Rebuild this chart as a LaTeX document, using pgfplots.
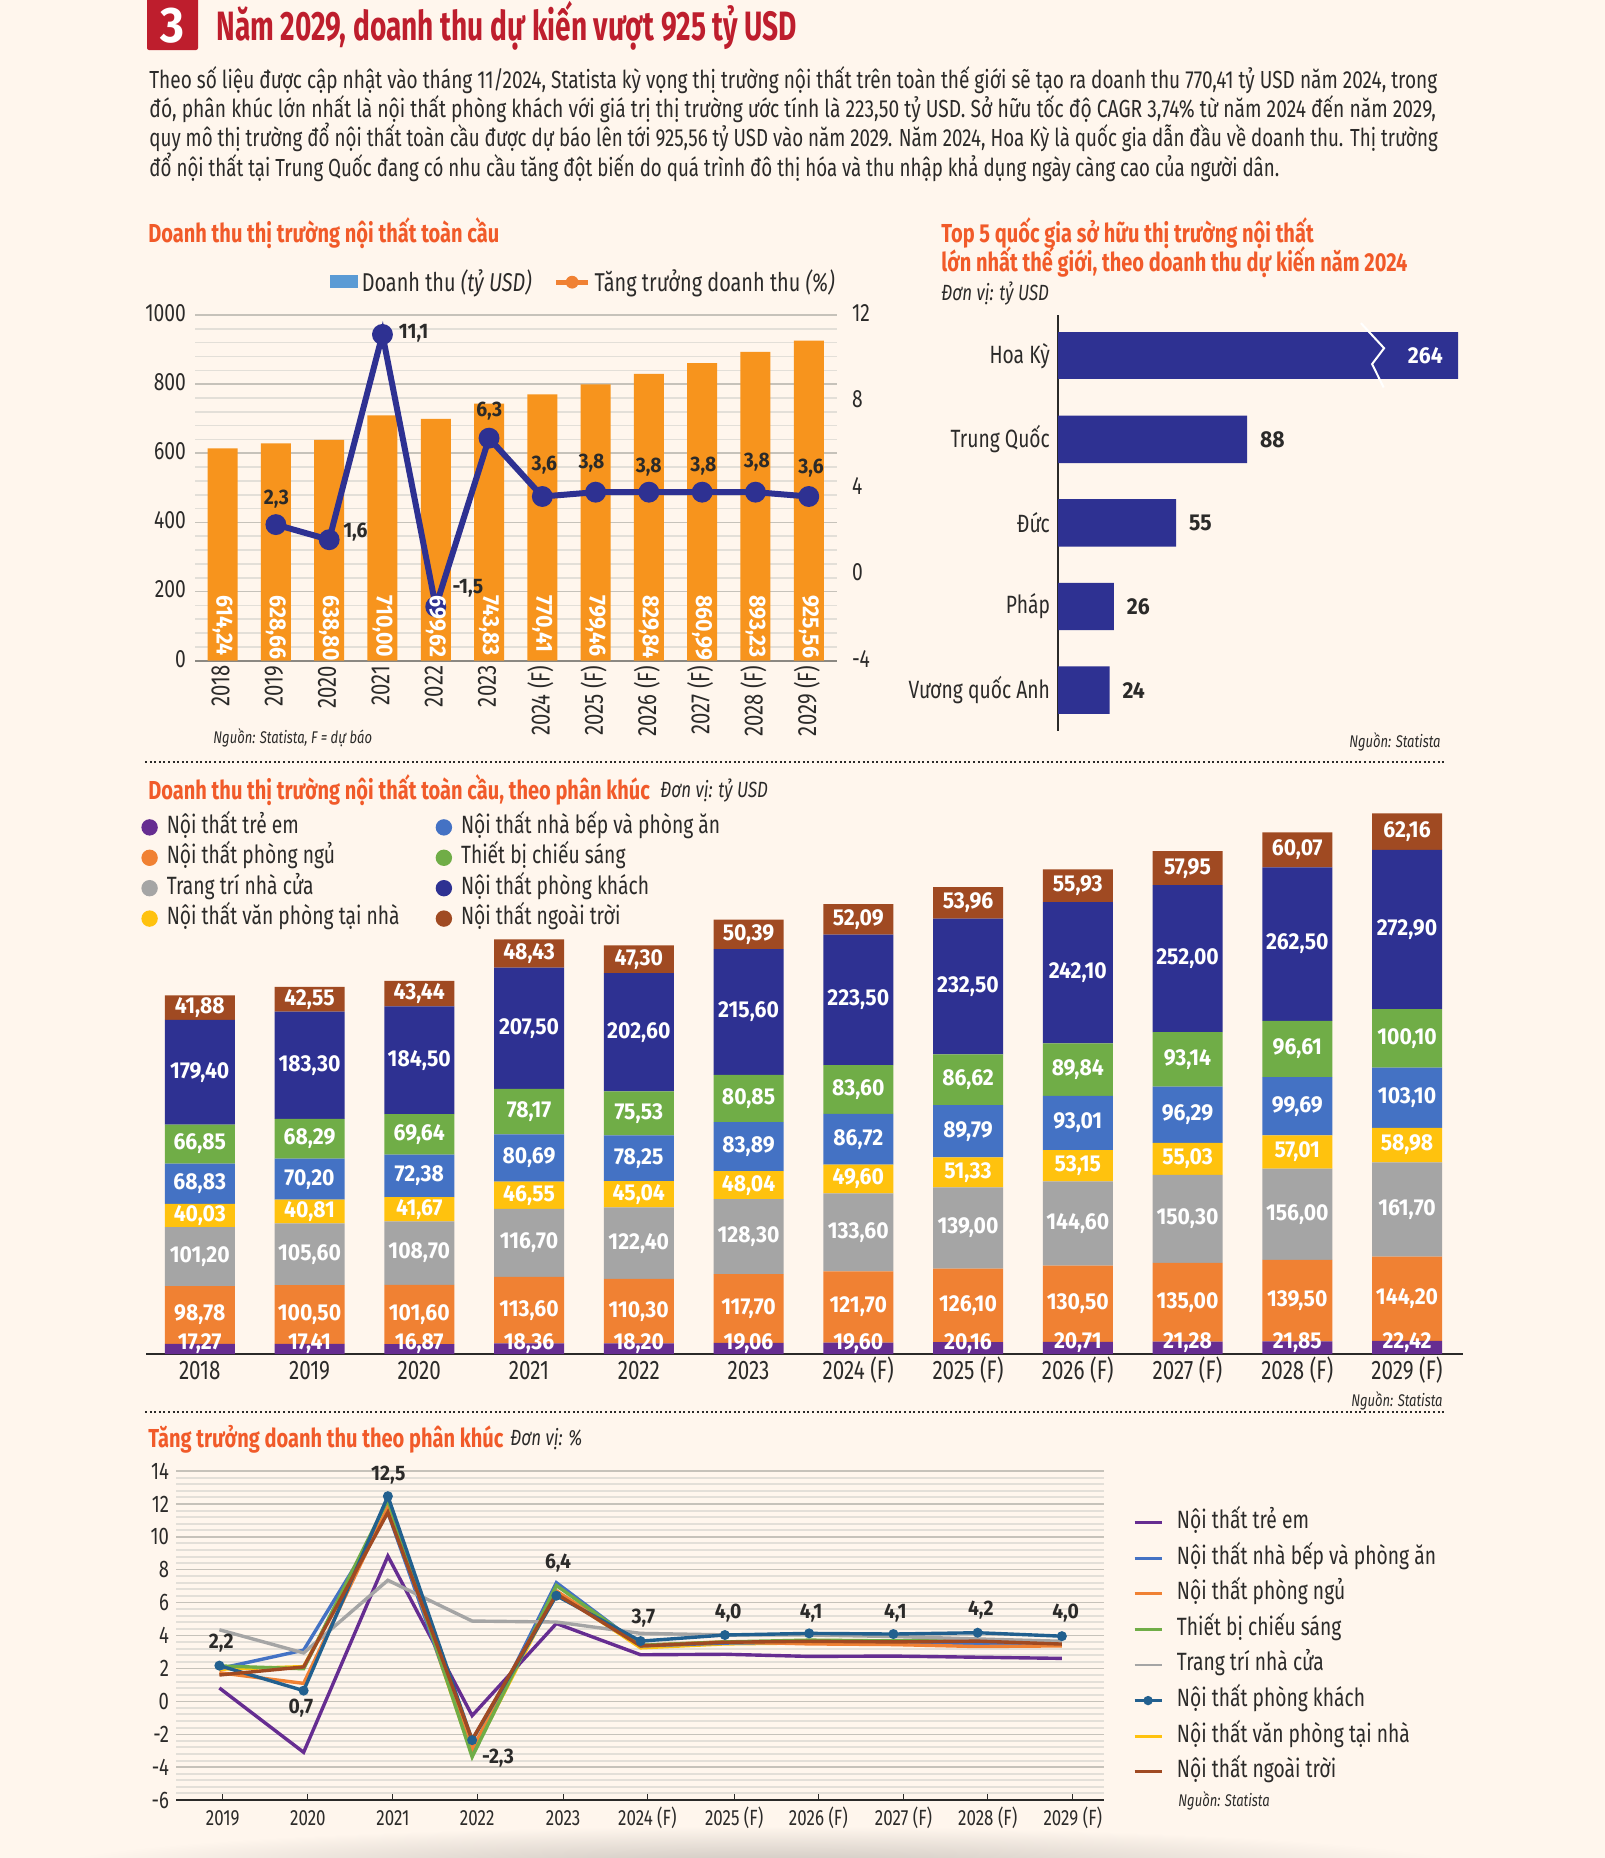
\documentclass[border=0pt]{standalone}
\usepackage{fontspec}
\setmainfont{Fira Sans}[FakeStretch=0.77]
\newfontfamily\bnum{Fira Sans}[FakeStretch=0.92]
\newfontfamily\ttl{Fira Sans}[FakeStretch=0.685]
\usepackage{pgfplots}
\usepackage{pgfplotstable}
\pgfplotsset{compat=1.18}

\definecolor{bg}{HTML}{FFF6ED}
\definecolor{ink}{HTML}{2B2A29}
\definecolor{hred}{HTML}{BE1E2D}
\definecolor{sect}{HTML}{F15A29}
\definecolor{barorange}{HTML}{F7941D}
\definecolor{navy}{HTML}{2E3192}
\definecolor{gridminor}{HTML}{E3DFD8}
\definecolor{gridmajor}{HTML}{C6C2BA}
\definecolor{cchild}{HTML}{662D91}
\definecolor{cbed}{HTML}{F08133}
\definecolor{cdecor}{HTML}{A5A5A5}
\definecolor{coffice}{HTML}{FFC20E}
\definecolor{ckitchen}{HTML}{4472C4}
\definecolor{clight}{HTML}{70AD47}
\definecolor{coutdoor}{HTML}{A04A22}
\definecolor{cliving}{HTML}{22608F}
\definecolor{cswatch}{HTML}{5B9BD5}

\newcommand\fs[1]{\fontsize{#1}{#1}\selectfont}

\pgfplotstableread{
i child bed decor office kitchen light living outdoor
0 17.27 98.78 101.20 40.03 68.83 66.85 179.40 41.88
1 17.41 100.50 105.60 40.81 70.20 68.29 183.30 42.55
2 16.87 101.60 108.70 41.67 72.38 69.64 184.50 43.44
3 18.36 113.60 116.70 46.55 80.69 78.17 207.50 48.43
4 18.20 110.30 122.40 45.04 78.25 75.53 202.60 47.30
5 19.06 117.70 128.30 48.04 83.89 80.85 215.60 50.39
6 19.60 121.70 133.60 49.60 86.72 83.60 223.50 52.09
7 20.16 126.10 139.00 51.33 89.79 86.62 232.50 53.96
8 20.71 130.50 144.60 53.15 93.01 89.84 242.10 55.93
9 21.28 135.00 150.30 55.03 96.29 93.14 252.00 57.95
10 21.85 139.50 156.00 57.01 99.69 96.61 262.50 60.07
11 22.42 144.20 161.70 58.98 103.10 100.10 272.90 62.16
}\stacktable

\pgfplotstableread{
i child kitchen bed light decor living office outdoor
0 0.81 1.99 1.74 2.15 4.35 2.17 1.95 1.60
1 -3.10 3.11 1.09 1.98 2.94 0.65 2.11 2.09
2 8.83 11.48 11.81 12.25 7.36 12.47 11.71 11.49
3 -0.87 -3.02 -2.90 -3.38 4.88 -2.36 -3.24 -2.33
4 4.73 7.21 6.71 7.04 4.82 6.42 6.66 6.53
5 2.83 3.37 3.40 3.40 4.13 3.66 3.25 3.37
6 2.86 3.54 3.62 3.61 4.04 4.03 3.49 3.59
7 2.73 3.59 3.49 3.72 4.03 4.13 3.55 3.65
8 2.75 3.53 3.45 3.67 3.94 4.09 3.54 3.61
9 2.68 3.53 3.33 3.73 3.79 4.17 3.60 3.66
10 2.61 3.42 3.37 3.61 3.65 3.96 3.46 3.48
}\growthtable

\pgfplotsset{
  seg/.style={fill=#1,draw=none},
  lbl/.style={fill=none,draw=none,visualization depends on={\thisrow{#1}\as\rawy}},
  lin/.style={color=#1,line width=1.7pt,mark=none},
  /pgf/number format/assume math mode=true,
  /pgf/number format/1000 sep={},
  stackbase/.style={
    at={(73pt,-677pt)},anchor=south west,
    scale only axis,width=658.5pt,height=292pt,
    ybar stacked,bar width=35pt,
    xmin=-0.49,xmax=11.51,ymin=0,ymax=1000,
  },
}

\begin{document}
\begin{tikzpicture}
\fill[bg] (0,0) rectangle (802.5pt,-929pt);
\useasboundingbox (0,0) rectangle (802.5pt,-929pt);
\shade[inner color=bg!78!black,outer color=bg,draw=none] (380pt,-935pt) ellipse (360pt and 22pt);

% tong doanh thu: cot
\begin{axis}[
  at={(97.5pt,-330.35pt)},anchor=south west,
  scale only axis,width=321pt,height=172.85pt,
  ybar,bar width=15pt,bar shift=0pt,
  xmin=-0.518,xmax=11.53,ymin=0,ymax=1000,
  axis x line*=bottom,axis y line*=left,
  y axis line style={draw=none},
  x axis line style={gridmajor!70!black,line width=1pt},
  ytick={0,200,...,1000},minor y tick num=4,
  ymajorgrids,yminorgrids,
  major grid style={gridmajor,line width=0.8pt},
  minor grid style={gridminor,line width=0.8pt},
  major tick length=0pt,minor tick length=0pt,
  xtick={0,...,11},
  xticklabels={2018,2019,2020,2021,2022,2023,2024 (F),2025 (F),2026 (F),2027 (F),2028 (F),2029 (F)},
  x tick label style={rotate=90,anchor=east,xshift=1pt,yshift=1pt,font=\fs{13.2}},
  y tick label style={font=\fs{12.5},xshift=-1pt,yshift=1pt},
  ticklabel style={text=ink},
]
\addplot[fill=barorange,draw=none] coordinates {
  (0,614.24)(1,628.66)(2,638.80)(3,710.00)(4,699.62)(5,743.83)
  (6,770.41)(7,799.46)(8,829.84)(9,860.99)(10,893.23)(11,925.56)};
\end{axis}

% tang truong: duong
\begin{axis}[
  at={(97.5pt,-330.35pt)},anchor=south west,
  scale only axis,width=321pt,height=172.85pt,
  xmin=-0.518,xmax=11.53,ymin=-4,ymax=12,
  axis x line=none,axis y line*=right,
  y axis line style={draw=none},
  major tick length=0pt,
  ytick={-4,0,4,8,12},
  y tick label style={font=\fs{12.5},text=ink,xshift=4pt,yshift=1pt},
  legend columns=2,
  legend style={at={(1,1)},anchor=south east,xshift=1pt,yshift=8pt,draw=none,fill=none,
    font=\fs{12.9},text=ink,inner sep=0pt,/tikz/every even column/.append style={column sep=9pt}},
]
\addplot[navy,line width=3pt,mark=*,mark size=3.7pt,mark options={fill=navy,draw=navy},forget plot] coordinates {
  (1,2.3)(2,1.6)(3,11.1)(4,-1.5)(5,6.3)(6,3.6)(7,3.8)(8,3.8)(9,3.8)(10,3.8)(11,3.6)};
\addplot[draw=none,forget plot,
  point meta=explicit symbolic,
  nodes near coords,
  every node near coord/.append style={rotate=-90,anchor=west,text=white,inner sep=0pt,font=\bnum\bfseries\fs{11.6}},
] table[meta=lab] {
x y lab
0 -0.96 614,24
1 -0.96 628,66
2 -0.96 638,80
3 -0.96 710,00
4 -0.96 699,62
5 -0.96 743,83
6 -0.96 770,41
7 -0.96 799,46
8 -0.96 829,84
9 -0.96 860,99
10 -0.96 893,23
11 -0.96 925,56
};
\addlegendimage{legend image code/.code={\fill[cswatch,draw=none] (-3pt,-3pt) rectangle (11pt,3.5pt);}}
\addlegendentry{Doanh thu \textit{(tỷ USD)}}
\addlegendimage{legend image code/.code={\draw[cbed,line width=2.5pt] (0pt,0pt) -- (16pt,0pt); \fill[cbed,draw=none] (8pt,0pt) circle (3.2pt);}}
\addlegendentry{Tăng trưởng doanh thu \textit{(\%)}}
\end{axis}

% top 5 quoc gia
\begin{axis}[
  at={(529pt,-365.5pt)},anchor=south west,
  scale only axis,width=200pt,height=208pt,
  xbar,bar width=23.7pt,bar shift=0pt,
  xmin=0,xmax=186.2,ymin=-0.487,ymax=4.49,y dir=reverse,
  axis x line=none,axis y line*=left,
  y axis line style={ink,line width=0.7pt},
  major tick length=0pt,
  ytick={0,...,4},
  yticklabels={Hoa Kỳ,Trung Quốc,Đức,Pháp,Vương quốc Anh},
  y tick label style={font=\fs{12.5},text=ink,xshift=-0.5pt},
]
\addplot[fill=navy,draw=none] coordinates {(264,0)};
\addplot[fill=navy,draw=none,
  nodes near coords,point meta=x,
  every node near coord/.append style={font=\bnum\bfseries\fs{11.5},text=ink,xshift=3pt},
] coordinates {(88,1)(55,2)(26,3)(24,4)};
\node[text=white,font=\bnum\bfseries\fs{11.5}] at (axis cs:171,0) {264};
\draw[white,line width=1pt] (axis cs:141,-0.39) -- (axis cs:151.8,-0.09) -- (axis cs:146.2,0.1) -- (axis cs:151.6,0.38);
\end{axis}

% doanh thu theo phan khuc: cot
\begin{axis}[stackbase,
  axis x line*=bottom,axis y line=none,
  x axis line style={ink,line width=0.7pt},
  major tick length=0pt,
  xtick={0,...,11},
  xticklabels={2018,2019,2020,2021,2022,2023,2024 (F),2025 (F),2026 (F),2027 (F),2028 (F),2029 (F)},
  x tick label style={font=\fs{13.4},text=ink,text height=9pt,text depth=2.5pt},
  legend columns=4,transpose legend,legend cell align=left,
  legend style={at={(0,0.923)},anchor=north west,xshift=-2.5pt,draw=none,fill=none,
    font=\fs{12.5},text=ink,inner sep=0pt,
    nodes={text height=9pt,text depth=3pt,inner sep=0pt},
    row sep=3.2pt,
    /tikz/every odd column/.append style={column sep=4.5pt},
    /tikz/every even column/.append style={column sep=18pt}},
  legend image code/.code={\fill[#1] (4pt,0pt) circle (4.1pt);},
]
\addplot[seg=cchild] table[x=i,y=child] {\stacktable};
\addplot[seg=cbed] table[x=i,y=bed] {\stacktable};
\addplot[seg=cdecor] table[x=i,y=decor] {\stacktable};
\addplot[seg=coffice] table[x=i,y=office] {\stacktable};
\addplot[seg=ckitchen] table[x=i,y=kitchen] {\stacktable};
\addplot[seg=clight] table[x=i,y=light] {\stacktable};
\addplot[seg=navy] table[x=i,y=living] {\stacktable};
\addplot[seg=coutdoor] table[x=i,y=outdoor] {\stacktable};
\legend{Nội thất trẻ em,Nội thất phòng ngủ,Trang trí nhà cửa,Nội thất văn phòng tại nhà,Nội thất nhà bếp và phòng ăn,Thiết bị chiếu sáng,Nội thất phòng khách,Nội thất ngoài trời}
\end{axis}

% doanh thu theo phan khuc: nhan, ve de len tren cac cot
\begin{axis}[stackbase,
  hide axis,
  nodes near coords={\pgfmathprintnumber[fixed,fixed zerofill,precision=2,use comma]{\rawy}},
  every node near coord/.append style={anchor=center,
    text=white,inner sep=0pt,font=\bnum\bfseries\fs{11.5}},
]
\addplot[lbl=child,every node near coord/.append style={yshift=2.5pt}] table[x=i,y=child] {\stacktable};
\addplot[lbl=bed] table[x=i,y=bed] {\stacktable};
\addplot[lbl=decor] table[x=i,y=decor] {\stacktable};
\addplot[lbl=office] table[x=i,y=office] {\stacktable};
\addplot[lbl=kitchen] table[x=i,y=kitchen] {\stacktable};
\addplot[lbl=light] table[x=i,y=light] {\stacktable};
\addplot[lbl=living] table[x=i,y=living] {\stacktable};
\addplot[lbl=outdoor] table[x=i,y=outdoor] {\stacktable};
\end{axis}

% tang truong theo phan khuc
\begin{axis}[
  at={(88pt,-900pt)},anchor=south west,
  scale only axis,width=464pt,height=164.5pt,
  xmin=-0.515,xmax=10.5,ymin=-6,ymax=14,
  axis x line*=bottom,axis y line*=left,
  y axis line style={draw=none},
  x axis line style={ink,line width=0.7pt},
  ytick={-6,-4,...,14},minor y tick num=4,
  ymajorgrids,yminorgrids,
  major grid style={gridmajor,line width=0.7pt},
  minor grid style={gridminor,line width=1pt},
  extra y ticks={0},extra y tick labels={},
  extra y tick style={grid style={gridmajor!70!black,line width=0.7pt}},
  y tick style={draw=none},
  xtick={0.04,1.05,2.06,3.06,4.08,5.08,6.11,7.11,8.12,9.12,10.13},
  xticklabels={2019,2020,2021,2022,2023,2024 (F),2025 (F),2026 (F),2027 (F),2028 (F),2029 (F)},
  x tick style={ink,line width=0.5pt},
  tick align=inside,major tick length=3pt,minor tick length=0pt,
  x tick label style={font=\fs{11},text=ink,yshift=-1.5pt,text height=7.6pt,text depth=2pt},
  y tick label style={font=\fs{12},text=ink},
  legend style={at={(1.031,0.881)},anchor=north west,draw=none,fill=none,
    font=\fs{12.5},text=ink,inner sep=0pt,
    nodes={text height=9pt,text depth=3pt,inner sep=0pt},
    row sep=5.8pt,/tikz/every odd column/.append style={column sep=7pt}},
  legend cell align=left,
  legend image code/.code={\draw[mark repeat=2,mark phase=2,#1,line width=1.4pt] plot coordinates {(0pt,0pt)(6.75pt,0pt)(13.5pt,0pt)};},
]
\addplot[lin=coffice,forget plot] table[x=i,y=office] {\growthtable};
\addplot[lin=cchild] table[x=i,y=child] {\growthtable};
\addplot[lin=ckitchen] table[x=i,y=kitchen] {\growthtable};
\addplot[lin=cbed] table[x=i,y=bed] {\growthtable};
\addplot[lin=clight] table[x=i,y=light] {\growthtable};
\addplot[lin=cdecor] table[x=i,y=decor] {\growthtable};
\addplot[lin=cliving,mark=*,mark size=1.6pt,mark options={fill=cliving,draw=cliving}] table[x=i,y=living] {\growthtable};
\addlegendimage{lin=coffice}
\addplot[lin=coutdoor] table[x=i,y=outdoor] {\growthtable};
\legend{Nội thất trẻ em,Nội thất nhà bếp và phòng ăn,Nội thất phòng ngủ,Thiết bị chiếu sáng,Trang trí nhà cửa,Nội thất phòng khách,Nội thất văn phòng tại nhà,Nội thất ngoài trời}
\end{axis}

% chu va trang tri, toa do theo pixel
\begin{scope}[x=0.5pt,y=-0.5pt,every node/.style={inner sep=0pt,text=ink}]
\fill[hred,rounded corners=1pt] (147,-2) rectangle (198,50);
\node[text=white,font=\bnum\bfseries\fs{25}] at (172.5,26) {3};
\node[anchor=west,text=hred,font=\ttl\bfseries\fs{20.5}] at (216,26) {Năm 2029, doanh thu dự kiến vượt 925 tỷ USD};
\foreach \yy/\sx/\tt in {80.5/1.001/{Theo số liệu được cập nhật vào tháng 11/2024, Statista kỳ vọng thị trường nội thất trên toàn thế giới sẽ tạo ra doanh thu 770,41 tỷ USD năm 2024, trong},
  109/1.0114/{đó, phân khúc lớn nhất là nội thất phòng khách với giá trị thị trường ước tính là 223,50 tỷ USD. Sở hữu tốc độ CAGR 3,74\% từ năm 2024 đến năm 2029,},
  137.5/0.9855/{quy mô thị trường đổ nội thất toàn cầu được dự báo lên tới 925,56 tỷ USD vào năm 2029. Năm 2024, Hoa Kỳ là quốc gia dẫn đầu về doanh thu. Thị trường},
  167/0.9835/{đổ nội thất tại Trung Quốc đang có nhu cầu tăng đột biến do quá trình đô thị hóa và thu nhập khả dụng ngày càng cao của người dân.}}
  {\node[anchor=west,font=\fs{12.35}] at (149,\yy) {\scalebox{\sx}[1]{\tt}};}
\node[anchor=west,text=sect,font=\bfseries\fs{13}] at (148,233) {Doanh thu thị trường nội thất toàn cầu};
\node[anchor=west,text=sect,font=\bfseries\fs{13}] at (941,233) {Top 5 quốc gia sở hữu thị trường nội thất};
\node[anchor=west,text=sect,font=\bfseries\fs{13}] at (941,262) {lớn nhất thế giới, theo doanh thu dự kiến năm 2024};
\node[anchor=west,font=\itshape\fs{11}] at (941,294) {Đơn vị: tỷ USD};
\node[anchor=west,font=\itshape\fs{8.45}] at (213,738) {Nguồn: Statista, F = dự báo};
\node[anchor=east,font=\itshape\fs{8.45}] at (1441,742) {Nguồn: Statista};
\draw[ink,line width=0.8pt,dash pattern=on 1pt off 1.3pt] (145,762) -- (1444,762);
\draw[ink,line width=0.8pt,dash pattern=on 1pt off 1.3pt] (145,1412) -- (1444,1412);
\node[anchor=west,text=sect,font=\bfseries\fs{13}] at (148,790) {Doanh thu thị trường nội thất toàn cầu, theo phân khúc};
\node[anchor=west,font=\itshape\fs{11}] at (660,791) {Đơn vị: tỷ USD};
\node[anchor=east,font=\itshape\fs{8.45}] at (1443,1401) {Nguồn: Statista};
\node[anchor=west,text=sect,font=\bfseries\fs{13}] at (148,1439) {Tăng trưởng doanh thu theo phân khúc};
\node[anchor=west,font=\itshape\fs{11}] at (510,1439) {Đơn vị: \%};
\node[anchor=west,font=\itshape\fs{8.45}] at (1178,1801) {Nguồn: Statista};
% nhan so, bieu do 1
\foreach \xx/\yy/\tt in {413.6/333.3/{11,1},276.4/499.3/{2,3},355.4/531.7/{1,6},467.9/588.3/{-1,5},489.2/411/{6,3},544.4/465/{3,6},591.5/463.3/{3,8},648.7/467.3/{3,8},703.4/466/{3,8},756.8/462.3/{3,8},811/468.3/{3,6}}
  {\node[font=\bnum\bfseries\fs{10.5}] at (\xx,\yy) {\tt};}
% nhan so, bieu do 4
\foreach \xx/\yy/\tt in {221.2/1643.3/{2,2},300.9/1708.3/{0,7},388.3/1475/{12,5},498/1758.3/{-2,3},558/1563.3/{6,4},643.4/1618.3/{3,7},728.2/1613.3/{4,0},811.1/1613.3/{4,1},895.3/1613.3/{4,1},980.8/1610/{4,2},1065.6/1612.7/{4,0}}
  {\node[font=\bnum\bfseries\fs{10.5}] at (\xx,\yy) {\tt};}
\end{scope}
\end{tikzpicture}
\end{document}
